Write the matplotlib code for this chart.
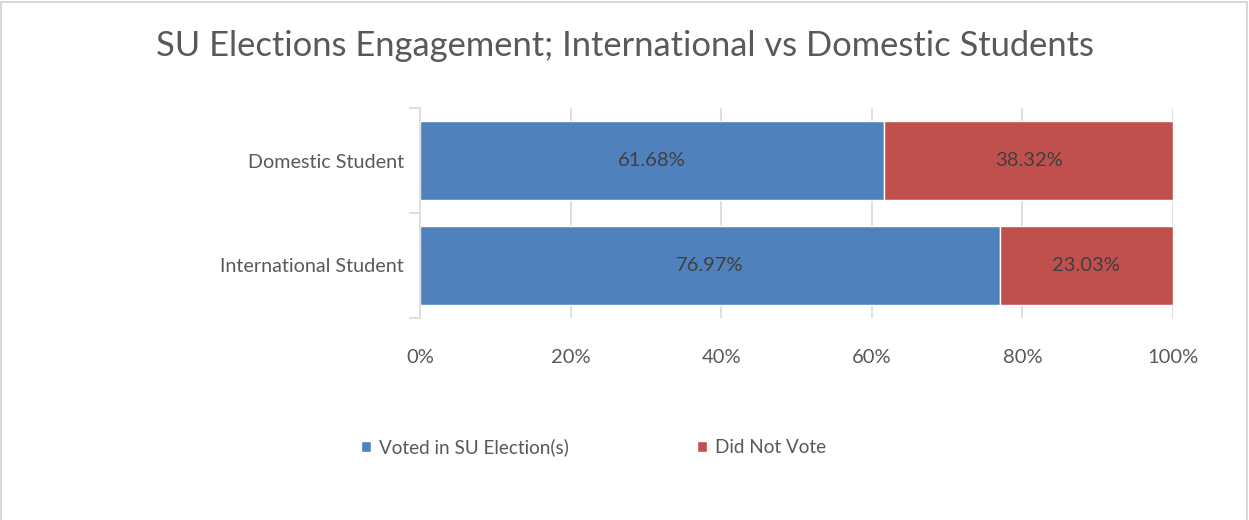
import matplotlib
matplotlib.use('Agg')
import matplotlib.pyplot as plt
from matplotlib.patches import Rectangle
import numpy as np

# chart data
categories = ['International Student', 'Domestic Student']
voted = [76.97, 61.68]
not_voted = [23.03, 38.32]
series_names = ['Voted in SU Election(s)', 'Did Not Vote']
xticks = [0, 20, 40, 60, 80, 100]
xtick_labels = ['0%', '20%', '40%', '60%', '80%', '100%']

blue = '#4F81BD'
red = '#C0504D'
text_col = '#595959'
grid_col = '#D9D9D9'

plt.rcParams['font.family'] = ['Lato', 'DejaVu Sans']

fig = plt.figure(figsize=(12.49, 5.2), dpi=100)
fig.patches.append(Rectangle((0.001, -0.01), 0.997, 1.007, transform=fig.transFigure,
                             fill=False, edgecolor=grid_col, linewidth=1.5))

ax = fig.add_axes([420 / 1249, 1 - 318 / 520, 753 / 1249, 210 / 520])
y = np.arange(len(categories))
h = 0.76

b1 = ax.barh(y, voted, height=h, color=blue, edgecolor='white', linewidth=1, zorder=2)
b2 = ax.barh(y, not_voted, left=voted, height=h, color=red, edgecolor='white', linewidth=1, zorder=2)

for bars, vals in ((b1, voted), (b2, not_voted)):
    ax.bar_label(bars, labels=['%.2f%%' % v for v in vals], label_type='center',
                 color='#404040', fontsize=14.5)

ax.set_xlim(0, 100)
ax.set_ylim(-0.5, 1.5)
ax.set_xticks(xticks)
ax.set_xticklabels(xtick_labels)
ax.set_yticks(y)
ax.set_yticklabels(categories)
ax.set_yticks([-0.5, 0.5, 1.5], minor=True)
for x in xticks[1:]:
    ax.axvline(x, color=grid_col, linewidth=1.2, zorder=1)

ax.tick_params(axis='x', length=0, pad=22, labelsize=14.5, labelcolor=text_col)
ax.tick_params(axis='y', which='major', length=0, pad=11.5, labelsize=14.2, labelcolor=text_col)
ax.tick_params(axis='y', which='minor', length=8, color=grid_col, width=1.2)

for s in ['top', 'right', 'bottom']:
    ax.spines[s].set_visible(False)
ax.spines['left'].set_color(grid_col)
ax.spines['left'].set_linewidth(1.2)

fig.text(0.5, 1 - 46 / 520, 'SU Elections Engagement; International vs Domestic Students',
         ha='center', va='center', fontsize=24.8, color=text_col)

fig.legend([b1, b2], series_names, loc='center', bbox_to_anchor=(593.5 / 1249, 1 - 447 / 520),
           ncol=2, frameon=False, fontsize=13.6, labelcolor=text_col, handlelength=0.55,
           handleheight=0.55, handletextpad=0.4, columnspacing=6.8)

fig.savefig('out.png', dpi=100)
